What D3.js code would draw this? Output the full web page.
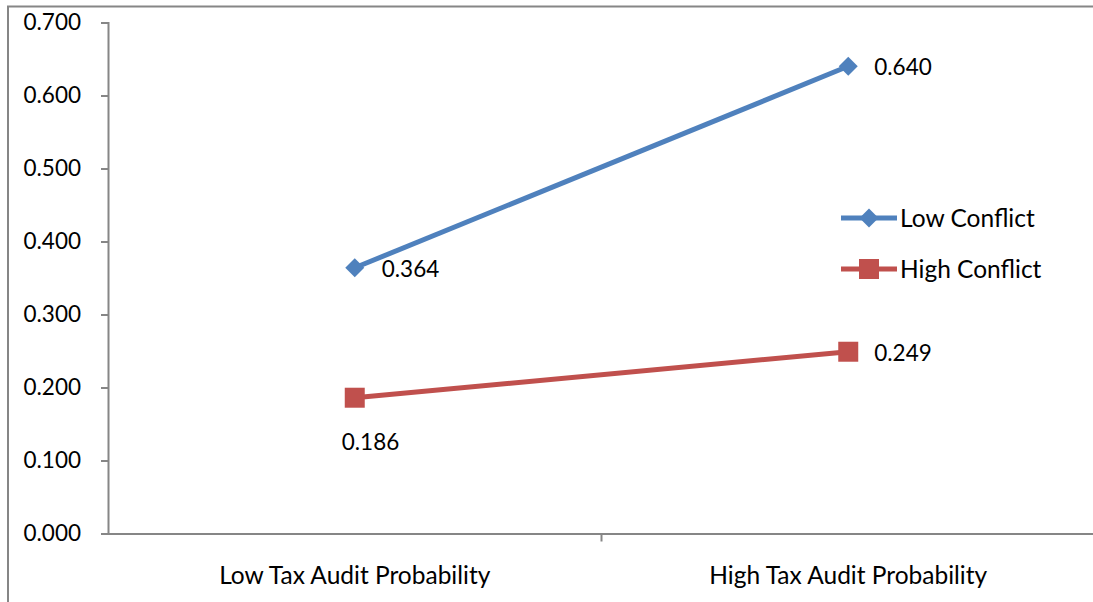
<!DOCTYPE html>
<html>
<head>
<meta charset="utf-8">
<script src="https://cdn.jsdelivr.net/npm/d3@7"></script>
<style>
  body { margin: 0; background: #fff; }
  text { font-family: Lato, "Open Sans", sans-serif; fill: #000; }
</style>
</head>
<body>
<div id="chart"></div>
<script>
const width = 1093;
const height = 602;

// Data
const categories = ["Low Tax Audit Probability", "High Tax Audit Probability"];
const seriesNames = ["Low Conflict", "High Conflict"];
const lowConflict = [0.364, 0.640];
const highConflict = [0.186, 0.249];
const yTicks = [0, 0.1, 0.2, 0.3, 0.4, 0.5, 0.6, 0.7];

const colors = ["#4F81BD", "#C0504D"];
const margin = { left: 108, right: 1095, top: 22.5, bottom: 533.5 };

const svg = d3.select("#chart").append("svg").attr("width", width).attr("height", height);

// Outer frame
svg.append("rect").attr("x", 8).attr("y", 6.5).attr("width", 1200).attr("height", 700)
  .attr("fill", "none").attr("stroke", "#868686").attr("stroke-width", 2);

const x = d3.scaleBand().domain(categories).range([margin.left, margin.right]);
const y = d3.scaleLinear().domain([0, 0.7]).range([margin.bottom, margin.top]);

// Y axis
const yAxis = svg.append("g").attr("transform", `translate(${margin.left},0)`)
  .call(d3.axisLeft(y).tickValues(yTicks).tickFormat(d3.format(".3f")).tickSize(7).tickPadding(20));
yAxis.select(".domain").attr("stroke", "#868686").attr("stroke-width", 2);
yAxis.selectAll(".tick line").attr("stroke", "#868686").attr("stroke-width", 2);
yAxis.selectAll("text").style("font-size", "22.5px").style("font-family", "Lato, sans-serif").attr("fill", "#000");

// X axis
const xAxis = svg.append("g").attr("transform", `translate(0,${margin.bottom})`)
  .call(d3.axisBottom(x).tickSize(0).tickPadding(33));
xAxis.select(".domain").attr("stroke", "#868686").attr("stroke-width", 2);
xAxis.selectAll("text").style("font-size", "24.5px").style("font-family", "Lato, sans-serif").attr("fill", "#000");
// Category boundary ticks
svg.append("g").selectAll("line").data(categories.slice(1)).join("line")
  .attr("x1", d => x(d)).attr("x2", d => x(d))
  .attr("y1", margin.bottom).attr("y2", margin.bottom + 8)
  .attr("stroke", "#868686").attr("stroke-width", 2);

const cx = d => x(d) + x.bandwidth() / 2;
const series = [lowConflict, highConflict];
const line = d3.line().x((d, i) => cx(categories[i])).y(d => y(d));

series.forEach((vals, s) => {
  svg.append("path").datum(vals).attr("d", line)
    .attr("fill", "none").attr("stroke", colors[s]).attr("stroke-width", 5);
});

// Markers
const diamond = d3.symbol().type(d3.symbolDiamond2).size(230);
const square = d3.symbol().type(d3.symbolSquare).size(400);
svg.append("g").selectAll("path").data(lowConflict).join("path")
  .attr("transform", (d, i) => `translate(${cx(categories[i])},${y(d)})`)
  .attr("d", diamond).attr("fill", colors[0]);
svg.append("g").selectAll("path").data(highConflict).join("path")
  .attr("transform", (d, i) => `translate(${cx(categories[i])},${y(d)})`)
  .attr("d", square).attr("fill", colors[1]);

// Data labels
const fmt = d3.format(".3f");
const labels = [
  { v: lowConflict[0], i: 0, dx: 27, dy: 1 },
  { v: lowConflict[1], i: 1, dx: 26, dy: 1 },
  { v: highConflict[0], i: 0, dx: -13, dy: 44 },
  { v: highConflict[1], i: 1, dx: 26, dy: 1 }
];
svg.append("g").selectAll("text").data(labels).join("text")
  .attr("x", d => cx(categories[d.i]) + d.dx)
  .attr("y", d => y(d.v) + d.dy)
  .attr("dy", "0.35em")
  .style("font-size", "22.5px")
  .text(d => fmt(d.v));

// Legend
const legend = svg.append("g").selectAll("g").data(seriesNames).join("g")
  .attr("transform", (d, i) => `translate(841,${218 + i * 51})`);
legend.append("line").attr("x1", 0).attr("x2", 56)
  .attr("stroke", (d, i) => colors[i]).attr("stroke-width", 5);
legend.append("path").attr("transform", "translate(28,0)")
  .attr("d", (d, i) => i === 0 ? diamond() : square())
  .attr("fill", (d, i) => colors[i]);
legend.append("text").attr("x", 59).attr("dy", "0.35em")
  .style("font-size", "24.5px").text(d => d);
</script>
</body>
</html>
